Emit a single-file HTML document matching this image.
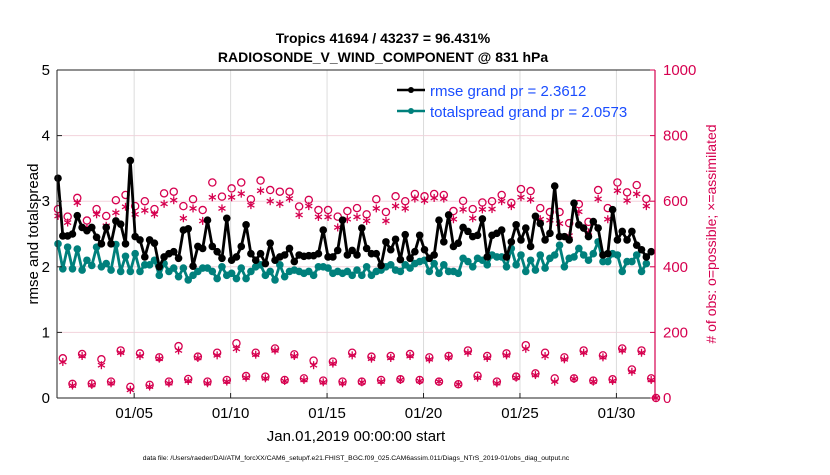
<!DOCTYPE html>
<html><head><meta charset="utf-8"><style>
body{margin:0;background:#fff;}
svg text{font-family:"Liberation Sans",Arial,sans-serif;}
</style></head><body>
<svg id="c" width="830" height="470" xmlns="http://www.w3.org/2000/svg">
<rect width="830" height="470" fill="#fff"/>
<text x="383" y="43" text-anchor="middle" font-size="14" font-weight="bold">Tropics 41694 / 43237 = 96.431%</text>
<text x="383" y="62" text-anchor="middle" font-size="14" font-weight="bold">RADIOSONDE_V_WIND_COMPONENT @ 831 hPa</text>
<g id="grid"></g>
<g id="marks"></g>
<g id="axes"></g>
<text transform="translate(38,234) rotate(-90)" text-anchor="middle" font-size="15">rmse and totalspread</text>
<text transform="translate(716,234) rotate(-90)" text-anchor="middle" font-size="14" fill="#d6004f"># of obs: o=possible; ×=assimilated</text>
<text x="356" y="441" text-anchor="middle" font-size="15">Jan.01,2019 00:00:00 start</text>
<text x="356" y="460" text-anchor="middle" font-size="6.8">data file: /Users/raeder/DAI/ATM_forcXX/CAM6_setup/f.e21.FHIST_BGC.f09_025.CAM6assim.011/Diags_NTrS_2019-01/obs_diag_output.nc</text>
<g>
<line x1="397" y1="90" x2="425" y2="90" stroke="#000" stroke-width="2.5"/>
<circle cx="411" cy="90" r="3" fill="#000"/>
<text x="430" y="96" font-size="15" fill="#1a4dff">rmse grand pr = 2.3612</text>
<line x1="397" y1="111" x2="425" y2="111" stroke="#00807c" stroke-width="2.5"/>
<circle cx="411" cy="111" r="3" fill="#00807c"/>
<text x="430" y="117" font-size="15" fill="#1a4dff">totalspread grand pr = 2.0573</text>
</g>
</svg>
<script>
const rmse=[3.35,2.47,2.47,2.5,2.78,2.6,2.55,2.6,2.45,2.35,2.6,2.35,2.7,2.65,2.35,3.62,
2.46,2.41,2.15,2.41,2.36,2.0,2.15,2.2,2.23,2.13,2.56,2.58,2.01,2.31,2.28,2.71,2.31,2.23,2.13,2.74,2.1,2.15,2.31,2.64,2.2,2.1,2.2,2.05,2.36,2.1,2.15,2.18,2.28,2.08,2.18,
2.16,2.17,2.17,2.2,2.56,2.15,2.15,2.25,2.71,2.18,2.25,2.18,2.59,2.28,2.2,2.2,2.02,
2.38,2.26,2.42,2.11,2.49,2.13,2.23,2.48,2.26,2.13,2.18,2.71,2.38,2.79,2.31,2.36,2.6,2.54,2.46,2.48,2.73,2.15,2.48,2.51,2.56,2.15,2.38,2.64,2.41,2.59,2.31,2.77,2.66,2.41,2.51,3.23,2.46,2.46,2.41,2.97,2.64,2.59,2.46,2.69,2.59,2.18,2.2,2.87,2.41,2.54,2.41,2.54,2.33,2.26,2.15,2.23];
const spread=[2.35,1.97,2.3,1.97,2.27,1.95,2.1,2.02,2.3,2.0,2.05,1.95,
2.34,1.93,2.16,1.93,2.2,1.93,2.03,2.03,2.1,1.87,2.05,1.93,1.98,1.85,1.98,1.8,1.87,1.93,1.98,1.98,1.93,1.82,2.0,1.87,1.9,1.82,1.98,1.82,1.93,2.0,2.03,1.87,1.93,1.8,2.03,1.85,1.93,1.95,1.93,1.9,1.93,1.87,2.0,2.0,1.98,1.9,1.93,1.9,1.93,1.87,1.95,1.87,2.0,1.87,1.93,1.95,
2.0,2.03,1.95,1.93,2.03,1.98,2.05,2.08,2.1,1.93,2.05,1.9,2.03,1.93,1.93,1.9,2.13,2.08,2.0,2.13,2.1,2.03,2.18,2.15,2.15,2.0,2.28,2.03,2.18,1.93,2.1,1.95,2.18,1.98,2.13,2.18,2.33,2.0,2.13,2.15,2.28,2.18,2.1,2.2,2.38,2.08,2.08,2.2,2.18,1.93,2.08,2.08,2.18,1.93,2.05];
const possUpper=[576,553,610,541,576,555,603,619,585,600,576,624,629,585,606,573,657,614,639,657,606,663,634,629,629,584,604,573,573,553,570,579,560,606,567,615,600,622,615,622,619,570,601,576,596,600,619,595,637,631,579,567,567,533,591,537,634,579,657,627,649,607];
const assimUpper=[555,535,595,520,560,525,565,583,560,572,560,592,603,548,578,540,612,578,612,623,588,632,600,592,608,558,585,552,552,520,545,552,540,578,540,585,578,608,602,610,608,545,575,548,575,576,600,585,612,605,545,542,532,495,568,505,607,545,632,602,622,585];
const possLower=[121,43,134,44,118,50,145,34,136,40,124,50,158,58,126,50,138,55,167,67,138,65,151,55,133,60,114,53,111,50,138,50,126,55,128,57,134,55,124,50,128,42,145,68,128,50,136,65,161,75,138,60,124,60,145,53,130,57,151,87,145,60];
const assimLower=[110,38,128,40,100,45,138,25,128,35,120,45,145,52,122,45,130,50,150,62,132,60,145,52,128,55,100,48,105,45,130,48,120,50,122,55,128,52,118,50,124,42,138,62,122,45,130,62,150,70,128,50,118,58,138,50,124,52,145,80,138,55];
const finalObs=[0];
const xTickDays=[5,10,15,20,25,30];
const xTickLabels=["01/05","01/10","01/15","01/20","01/25","01/30"];
const yTicks=[0,1,2,3,4,5];
const y2Ticks=[0,200,400,600,800,1000];

const L=57,R=655,T=70,B=398;
const dayX=d=>L+(d-1)*(R-L)/31;
const idxX=i=>L+1+i*(R-L)/124;
const yL=v=>B-v*(B-T)/5;
const yR=v=>B-v*(B-T)/1000;
const NS="http://www.w3.org/2000/svg";
function mk(p,tag,a){const e=document.createElementNS(NS,tag);for(const k in a)e.setAttribute(k,a[k]);p.appendChild(e);return e;}
const grid=document.getElementById('grid'),marks=document.getElementById('marks'),axes=document.getElementById('axes');
const CR="#d6004f";
y2Ticks.forEach(v=>{if(v>0&&v<1000){const g=mk(grid,'line',{x1:L,x2:R,y1:yR(v),y2:yR(v),stroke:'#f2d2dc','stroke-width':1});

}});
xTickDays.forEach(d=>{const g=mk(grid,'line',{x1:dayX(d),x2:dayX(d),y1:T,y2:B,stroke:'#dcdcdc','stroke-width':1});

});
function star(x,y){const g=mk(marks,'g',{stroke:CR,'stroke-width':1.3});


mk(g,'line',{x1:x,y1:y-4,x2:x,y2:y+4});mk(g,'line',{x1:x-3.5,y1:y-2,x2:x+3.5,y2:y+2});mk(g,'line',{x1:x-3.5,y1:y+2,x2:x+3.5,y2:y-2});}
function ring(x,y){const c=mk(marks,'circle',{cx:x,cy:y,r:3.6,fill:'none',stroke:CR,'stroke-width':1.3});

}
possUpper.forEach((v,k)=>ring(idxX(2*k),yR(v)));
assimUpper.forEach((v,k)=>star(idxX(2*k),yR(v)));
possLower.forEach((v,k)=>ring(idxX(2*k+1),yR(v)));
assimLower.forEach((v,k)=>star(idxX(2*k+1),yR(v)));
finalObs.forEach(v=>{ring(idxX(124),yR(v));star(idxX(124),yR(v));});
function series(arr,col,name){
const pts=arr.map((v,i)=>idxX(i).toFixed(1)+','+yL(v).toFixed(1)).join(' ');
const pl=mk(marks,'polyline',{points:pts,fill:'none',stroke:col,'stroke-width':2.8,'stroke-linejoin':'round'});


arr.forEach((v,i)=>{const c=mk(marks,'circle',{cx:idxX(i),cy:yL(v),r:3.8,fill:col});

});}
series(spread,'#00807c','totalspread');
series(rmse,'#000','rmse');
mk(axes,'line',{x1:L,x2:R,y1:B,y2:B,stroke:'#222','stroke-width':1});
mk(axes,'line',{x1:L,x2:L,y1:T,y2:B,stroke:'#222','stroke-width':1});
mk(axes,'line',{x1:L,x2:R,y1:T,y2:T,stroke:'#222','stroke-width':1});
mk(axes,'line',{x1:R,x2:R,y1:T,y2:B,stroke:CR,'stroke-width':1.2});
xTickDays.forEach((d,k)=>{mk(axes,'line',{x1:dayX(d),x2:dayX(d),y1:B,y2:B-5,stroke:'#222'});
const t=mk(axes,'text',{x:dayX(d),y:B+20,'text-anchor':'middle','font-size':15});t.textContent=xTickLabels[k];

});
yTicks.forEach(v=>{mk(axes,'line',{x1:L,x2:L+5,y1:yL(v),y2:yL(v),stroke:'#222'});
const t=mk(axes,'text',{x:L-7,y:yL(v)+5,'text-anchor':'end','font-size':15});t.textContent=v;

});
y2Ticks.forEach(v=>{mk(axes,'line',{x1:R,x2:R-5,y1:yR(v),y2:yR(v),stroke:CR});
const t=mk(axes,'text',{x:R+8,y:yR(v)+5,'font-size':15,fill:CR});t.textContent=v;

});
</script>
</body></html>
